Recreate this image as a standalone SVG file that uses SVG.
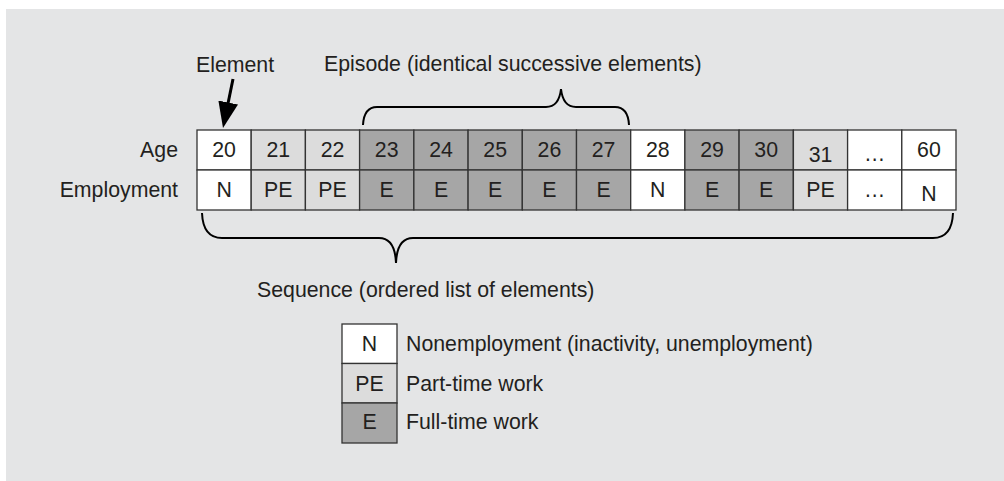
<svg xmlns="http://www.w3.org/2000/svg" width="1004" height="481" viewBox="0 0 1004 481">
<style>
text{font-family:"Liberation Sans",Arial,sans-serif;font-size:21.3px;fill:#231f20}
.c{text-anchor:middle}
.r{text-anchor:end}
.cell{stroke:#333;stroke-width:1.3}
.w{fill:#ffffff}
.l{fill:#dcdcdc}
.d{fill:#a6a6a6}
.brace{fill:none;stroke:#000;stroke-width:2}
</style>
<defs>
<marker id="ah" markerWidth="26" markerHeight="20" refX="16" refY="10" orient="auto" markerUnits="userSpaceOnUse" viewBox="0 0 26 20">
<path d="M0,0 L26,10 L0,20 Z" fill="#000"/>
</marker>
</defs>
<rect x="6" y="9" width="998" height="472" fill="#e4e5e6"/>
<g id="labels">
<text x="178" y="157" class="r">Age</text>
<text x="178" y="197" class="r">Employment</text>
</g>
<g id="table">
<g id="c20"><rect class="cell w" x="197" y="130" width="54.2" height="40"/><rect class="cell w" x="197" y="170" width="54.2" height="40"/><text class="c" x="224.1" y="157">20</text><text class="c" x="224.1" y="197">N</text></g>
<g id="c21"><rect class="cell l" x="251.2" y="130" width="54.2" height="40"/><rect class="cell l" x="251.2" y="170" width="54.2" height="40"/><text class="c" x="278.3" y="157">21</text><text class="c" x="278.3" y="197">PE</text></g>
<g id="c22"><rect class="cell l" x="305.4" y="130" width="54.2" height="40"/><rect class="cell l" x="305.4" y="170" width="54.2" height="40"/><text class="c" x="332.5" y="157">22</text><text class="c" x="332.5" y="197">PE</text></g>
<g id="c23"><rect class="cell d" x="359.6" y="130" width="54.2" height="40"/><rect class="cell d" x="359.6" y="170" width="54.2" height="40"/><text class="c" x="386.7" y="157">23</text><text class="c" x="386.7" y="197">E</text></g>
<g id="c24"><rect class="cell d" x="413.9" y="130" width="54.2" height="40"/><rect class="cell d" x="413.9" y="170" width="54.2" height="40"/><text class="c" x="441" y="157">24</text><text class="c" x="441" y="197">E</text></g>
<g id="c25"><rect class="cell d" x="468.1" y="130" width="54.2" height="40"/><rect class="cell d" x="468.1" y="170" width="54.2" height="40"/><text class="c" x="495.2" y="157">25</text><text class="c" x="495.2" y="197">E</text></g>
<g id="c26"><rect class="cell d" x="522.3" y="130" width="54.2" height="40"/><rect class="cell d" x="522.3" y="170" width="54.2" height="40"/><text class="c" x="549.4" y="157">26</text><text class="c" x="549.4" y="197">E</text></g>
<g id="c27"><rect class="cell d" x="576.5" y="130" width="54.2" height="40"/><rect class="cell d" x="576.5" y="170" width="54.2" height="40"/><text class="c" x="603.6" y="157">27</text><text class="c" x="603.6" y="197">E</text></g>
<g id="c28"><rect class="cell w" x="630.7" y="130" width="54.2" height="40"/><rect class="cell w" x="630.7" y="170" width="54.2" height="40"/><text class="c" x="657.8" y="157">28</text><text class="c" x="657.8" y="197">N</text></g>
<g id="c29"><rect class="cell d" x="684.9" y="130" width="54.2" height="40"/><rect class="cell d" x="684.9" y="170" width="54.2" height="40"/><text class="c" x="712" y="157">29</text><text class="c" x="712" y="197">E</text></g>
<g id="c30"><rect class="cell d" x="739.1" y="130" width="54.2" height="40"/><rect class="cell d" x="739.1" y="170" width="54.2" height="40"/><text class="c" x="766.2" y="157">30</text><text class="c" x="766.2" y="197">E</text></g>
<g id="c31"><rect class="cell l" x="793.4" y="130" width="54.2" height="40"/><rect class="cell l" x="793.4" y="170" width="54.2" height="40"/><text class="c" x="820.5" y="162">31</text><text class="c" x="820.5" y="197">PE</text></g>
<g id="cdots"><rect class="cell w" x="847.6" y="130" width="54.2" height="40"/><rect class="cell w" x="847.6" y="170" width="54.2" height="40"/><text class="c" x="874.7" y="161">…</text><text class="c" x="874.7" y="197">…</text></g>
<g id="c60"><rect class="cell w" x="901.8" y="130" width="54.2" height="40"/><rect class="cell w" x="901.8" y="170" width="54.2" height="40"/><text class="c" x="928.9" y="157">60</text><text class="c" x="928.9" y="201">N</text></g>
</g>
<g id="annotations">
<text x="196" y="72">Element</text>
<text x="324" y="71">Episode (identical successive elements)</text>
<text x="257" y="297">Sequence (ordered list of elements)</text>
</g>
<g id="connectors">
<line x1="233" y1="79" x2="225" y2="118.2" stroke="#000" stroke-width="3" marker-end="url(#ah)"/>
<path class="brace" d="M363,125 Q364,107 377,107 L546,107 Q559,107 561,89 Q563,107 576,107 L615,107 Q628,107 629,125"/>
<path class="brace" d="M202,213 Q203,238 222,238 L379,238 Q395,238 396,263 Q397,238 413,238 L933,238 Q952,238 953,213"/>
</g>
<g id="legend">
<g id="legN"><rect class="cell w" x="342" y="324" width="55" height="39.5"/><text class="c" x="369.5" y="351">N</text><text x="406" y="351">Nonemployment (inactivity, unemployment)</text></g>
<g id="legPE"><rect class="cell l" x="342" y="363.5" width="55" height="39.5"/><text class="c" x="369.5" y="391">PE</text><text x="406" y="391">Part-time work</text></g>
<g id="legE"><rect class="cell d" x="342" y="403" width="55" height="40"/><text class="c" x="369.5" y="429">E</text><text x="406" y="429">Full-time work</text></g>
</g>
</svg>
